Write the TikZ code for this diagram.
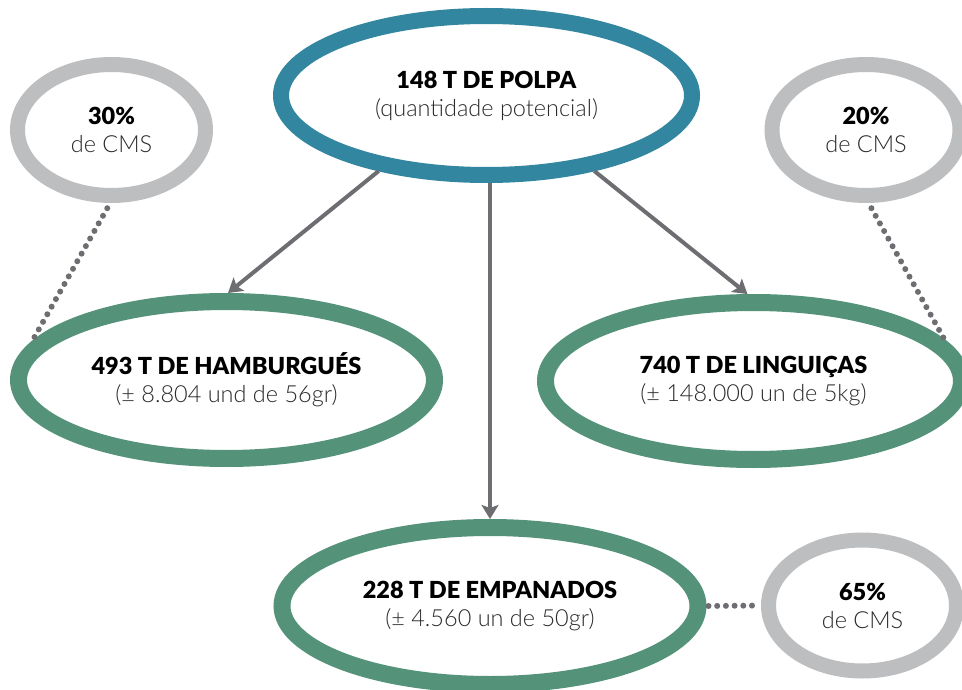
\documentclass[tikz,border=0pt]{standalone}
\usepackage{fontspec}
\setmainfont{Lato}[BoldFont={Lato Black}]
\newfontfamily\litefont{Lato Light}
\usetikzlibrary{arrows.meta,shapes.geometric}
\definecolor{polb}{HTML}{33869F}
\definecolor{prod}{HTML}{54927A}
\definecolor{cmsg}{HTML}{BDBEC0}
\definecolor{arrg}{HTML}{6D6E71}
\definecolor{sub}{HTML}{2A2A2A}
\tikzset{
  >={Stealth[length=14pt,width=17pt,inset=3pt]},
  ring/.style={ellipse,fill=white,align=center,inner sep=0pt,font=\fontsize{23.5}{28}\selectfont},
  pring/.style={ring,draw=polb,line width=16pt,minimum width=411pt,minimum height=159pt},
  gring/.style={ring,draw=prod,line width=17pt,minimum width=416pt,minimum height=157pt},
  cring/.style={ring,draw=cmsg,line width=15pt,minimum width=188pt,minimum height=131pt},
  arr/.style={->,draw=arrg,line width=4pt},
  darr/.style={draw=arrg,line width=6pt,line cap=round,dash pattern=on 0pt off 8.7pt},
}
\newcommand{\ttl}[2]{\textbf{#1}\\{\litefont\color{sub}#2}}
\begin{document}
\begin{tikzpicture}[x=1pt,y=-1pt]
\useasboundingbox (0,0) rectangle (962,690);
% produto de partida
\node[pring] (polpa) at (486.5,95.5) {\ttl{148 T DE POLPA}{(quantidade potencial)}};
% produtos
\node[gring] (hamb) at (226.5,380) {\ttl{493 T DE HAMBURGUÉS}{(± 8.804 und de 56gr)}};
\node[gring] (ling) at (753.5,381) {\ttl{740 T DE LINGUIÇAS}{(± 148.000 un de 5kg)}};
\node[gring] (empa) at (490,606) {\ttl{228 T DE EMPANADOS}{(± 4.560 un de 50gr)}};
% percentuais de CMS
\node[cring] (c30) at (111.5,130) {\ttl{30\%}{de CMS}};
\node[cring] (c20) at (866,130) {\ttl{20\%}{de CMS}};
\node[cring] (c65) at (862.5,605.5) {\ttl{65\%}{de CMS}};
\draw[arr] (polpa.215) -- (hamb.89);
\draw[arr] (polpa.south -| empa.north) -- (empa.north);
\draw[arr] (polpa.325) -- (ling.94);
\draw[darr,shorten <=6pt] (c30.269) -- (hamb.169);
\draw[darr,shorten <=6pt] (c20.272) -- (ling.12);
\draw[darr,shorten <=2pt,shorten >=3pt] (empa.east) -- (c65.west);
\end{tikzpicture}
\end{document}
